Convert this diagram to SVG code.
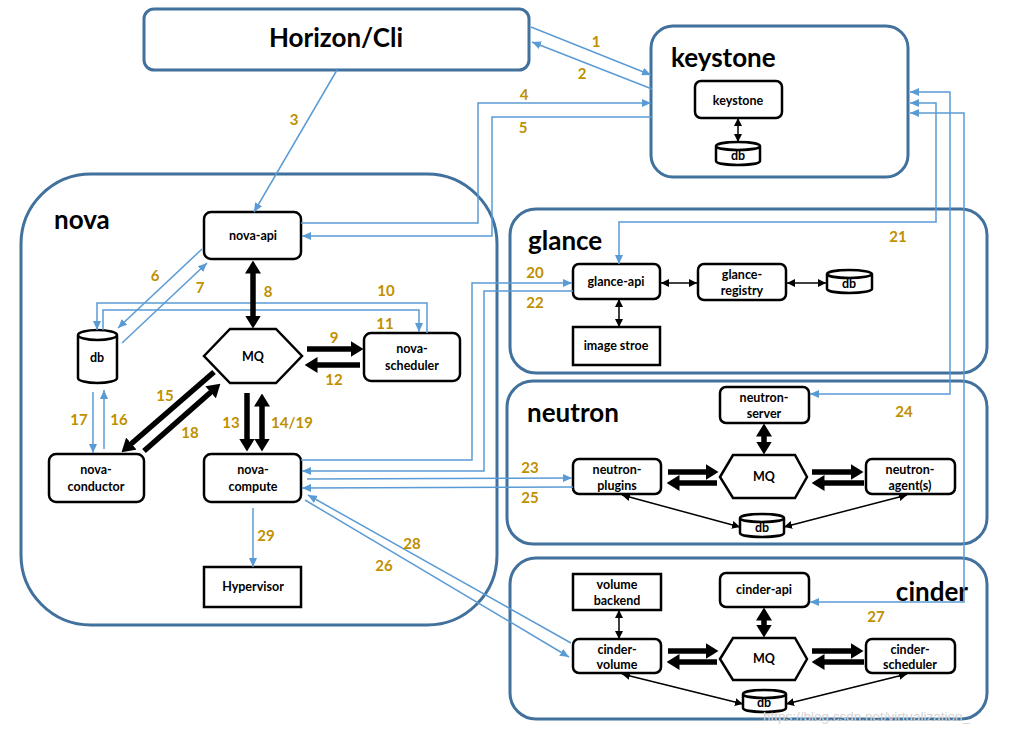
<svg xmlns="http://www.w3.org/2000/svg" width="1016" height="734" viewBox="0 0 1016 734">
<style>
.cont{fill:none;stroke:#41719C;stroke-width:3}
.nd{fill:#fff;stroke:#000;stroke-width:2.5}
.title{font-family:Lato,"Liberation Sans",sans-serif;font-weight:bold;font-size:26px;fill:#000}
.t{font-family:Lato,"Liberation Sans",sans-serif;font-weight:bold;font-size:12.5px;fill:#000;text-anchor:middle}
.lbl{font-family:Lato,"Liberation Sans",sans-serif;font-weight:bold;font-size:15px;fill:#BF9000;text-anchor:middle}
.bl{fill:none;stroke:#5B9BD5;stroke-width:1.5;marker-end:url(#ba)}
.bl2{fill:none;stroke:#5B9BD5;stroke-width:1.5;marker-end:url(#ba);marker-start:url(#ba)}
.thk{stroke:#000;stroke-width:5.5;marker-end:url(#ka)}
.thk2{stroke:#000;stroke-width:5.5;marker-end:url(#ka);marker-start:url(#ka)}
.thin2{stroke:#000;stroke-width:1.5;marker-end:url(#ta);marker-start:url(#ta)}
</style>
<defs>
<marker id="ba" markerUnits="userSpaceOnUse" markerWidth="9" markerHeight="8" refX="9" refY="4" orient="auto-start-reverse"><path d="M0,0 L9,4 L0,8 z" fill="#5B9BD5"/></marker>
<marker id="ka" markerUnits="userSpaceOnUse" markerWidth="13" markerHeight="16" refX="0.5" refY="8" orient="auto-start-reverse"><path d="M0,0 L13,8 L0,16 z" fill="#000"/></marker>
<marker id="ta" markerUnits="userSpaceOnUse" markerWidth="8" markerHeight="8" refX="8" refY="4" orient="auto-start-reverse"><path d="M0,0 L8,4 L0,8 z" fill="#000"/></marker>
</defs>
<rect width="1016" height="734" fill="#fff"/>

<g id="horizon">
<rect x="144" y="9" width="385" height="61" rx="10" class="cont"/>
<text x="336" y="47" class="title" text-anchor="middle">Horizon/Cli</text>
</g>
<g id="keystone-box">
<rect x="651" y="26" width="257" height="151" rx="22" class="cont"/>
<text x="671" y="67" class="title">keystone</text>
</g>
<g id="nova-box">
<rect x="21" y="174" width="476" height="451" rx="70" class="cont"/>
<text x="54" y="229" class="title">nova</text>
</g>
<g id="glance-box">
<rect x="510" y="209" width="477" height="164" rx="26" class="cont"/>
<text x="528" y="250" class="title">glance</text>
</g>
<g id="neutron-box">
<rect x="507" y="381" width="480" height="163" rx="26" class="cont"/>
<text x="527" y="422" class="title">neutron</text>
</g>
<g id="cinder-box">
<rect x="510" y="558" width="477" height="161" rx="26" class="cont"/>
<text x="968" y="601" class="title" text-anchor="end">cinder</text>
</g>

<g id="keystone-svc"><rect x="695" y="81" width="87" height="37" rx="6" class="nd"/><text x="738" y="105" class="t" font-size="11.5">keystone</text></g>
<g id="keystone-db"><path d="M716,146 A22,4 0 0 1 760,146 V161 A22,4 0 0 1 716,161 Z M716,146 A22,4 0 0 0 760,146" class="nd"/><text x="738" y="160" class="t" font-size="10.5">db</text></g>

<g id="nova-api"><rect x="204" y="212" width="97" height="47" rx="7" class="nd"/><text x="253" y="240" class="t">nova-api</text></g>
<g id="nova-db"><path d="M78,335 A19.5,5 0 0 1 117,335 V378 A19.5,5 0 0 1 78,378 Z M78,335 A19.5,5 0 0 0 117,335" class="nd"/><text x="97" y="362" class="t">db</text></g>
<g id="nova-mq"><polygon points="204,356 230,329 276,329 302,356 276,383 230,383" class="nd"/><text x="253" y="361" class="t">MQ</text></g>
<g id="nova-scheduler"><rect x="364" y="333" width="96" height="48" rx="7" class="nd"/><text x="412" y="353" class="t">nova-</text><text x="412" y="370" class="t">scheduler</text></g>
<g id="nova-conductor"><rect x="49" y="454" width="95" height="48" rx="7" class="nd"/><text x="96" y="474" class="t">nova-</text><text x="96" y="491" class="t">conductor</text></g>
<g id="nova-compute"><rect x="204" y="454" width="97" height="48" rx="7" class="nd"/><text x="253" y="474" class="t">nova-</text><text x="253" y="491" class="t">compute</text></g>
<g id="hypervisor"><rect x="204" y="567" width="97" height="40" class="nd"/><text x="253" y="591" class="t">Hypervisor</text></g>

<g id="glance-api"><rect x="573" y="264" width="87" height="35" rx="6" class="nd"/><text x="616" y="286" class="t">glance-api</text></g>
<g id="glance-registry"><rect x="698" y="264" width="88" height="36" rx="6" class="nd"/><text x="742" y="279" class="t">glance-</text><text x="742" y="295" class="t">registry</text></g>
<g id="glance-db"><path d="M827,274 A22.5,4 0 0 1 872,274 V289 A22.5,4 0 0 1 827,289 Z M827,274 A22.5,4 0 0 0 872,274" class="nd"/><text x="849" y="288" class="t" font-size="11">db</text></g>
<g id="image-store"><rect x="573" y="327" width="87" height="38" class="nd"/><text x="616" y="350" class="t" font-size="11.5">image stroe</text></g>

<g id="neutron-server"><rect x="720" y="387" width="89" height="36" rx="6" class="nd"/><text x="764" y="402" class="t">neutron-</text><text x="764" y="418" class="t">server</text></g>
<g id="neutron-mq"><polygon points="720,477 733,455 795,455 807,477 795,498 733,498" class="nd"/><text x="764" y="481" class="t" font-size="11.5">MQ</text></g>
<g id="neutron-plugins"><rect x="573" y="459" width="88" height="35" rx="6" class="nd"/><text x="617" y="474" class="t">neutron-</text><text x="617" y="490" class="t">plugins</text></g>
<g id="neutron-agents"><rect x="866" y="459" width="89" height="35" rx="6" class="nd"/><text x="910" y="474" class="t">neutron-</text><text x="910" y="490" class="t">agent(s)</text></g>
<g id="neutron-db"><path d="M740,518 A22,4 0 0 1 784,518 V533 A22,4 0 0 1 740,533 Z M740,518 A22,4 0 0 0 784,518" class="nd"/><text x="762" y="532" class="t" font-size="11">db</text></g>

<g id="volume-backend"><rect x="573" y="574" width="88" height="36" class="nd"/><text x="617" y="589" class="t" font-size="11.5">volume</text><text x="617" y="605" class="t" font-size="11.5">backend</text></g>
<g id="cinder-api"><rect x="720" y="573" width="89" height="34" rx="6" class="nd"/><text x="764" y="594" class="t">cinder-api</text></g>
<g id="cinder-mq"><polygon points="720,659 733,638 795,638 807,659 795,680 733,680" class="nd"/><text x="764" y="663" class="t" font-size="11.5">MQ</text></g>
<g id="cinder-volume"><rect x="573" y="639" width="88" height="34" rx="6" class="nd"/><text x="617" y="654" class="t">cinder-</text><text x="617" y="669" class="t">volume</text></g>
<g id="cinder-scheduler"><rect x="866" y="639" width="89" height="34" rx="6" class="nd"/><text x="910" y="654" class="t">cinder-</text><text x="910" y="669" class="t">scheduler</text></g>
<g id="cinder-db"><path d="M743,694 A21.5,4 0 0 1 786,694 V708 A21.5,4 0 0 1 743,708 Z M743,694 A21.5,4 0 0 0 786,694" class="nd"/><text x="764" y="707" class="t" font-size="11">db</text></g>

<g id="connectors">
<polyline class="bl" points="531,27 651,75"/>
<polyline class="bl" points="652,89 532,42"/>
<polyline class="bl" points="337,70 254,212"/>
<polyline class="bl" points="301,223 478,223 478,103 651,103"/>
<polyline class="bl" points="652,117 492,117 492,236 302,236"/>
<polyline class="bl" points="202,249 118,328"/>
<polyline class="bl" points="122,343 207,263"/>
<polyline class="bl" points="427,333 427,303 97,303 97,330"/>
<polyline class="bl" points="103,330 103,310 419,310 419,332"/>
<polyline class="bl" points="104,449 104,390"/>
<polyline class="bl" points="93,392 93,453"/>
<polyline class="bl" points="301,460 472,460 472,283 572,283"/>
<polyline class="bl" points="573,291 484,291 484,471 302,471"/>
<polyline class="bl" points="307,479 572,478"/>
<polyline class="bl" points="573,487 302,488"/>
<polyline class="bl" points="305,500 569,657"/>
<polyline class="bl" points="571,643 308,495"/>
<polyline class="bl" points="253,508 253,567"/>
<polyline class="bl2" points="910,103 936,103 936,222 619,222 619,264"/>
<polyline class="bl2" points="910,92 950,92 950,394 810,394"/>
<polyline class="bl2" points="910,113 964,113 964,602 810,602"/>

<line class="thk2" x1="253" y1="273" x2="253" y2="316"/>
<line class="thk" x1="307" y1="349" x2="351" y2="349"/>
<line class="thk" x1="360" y1="365" x2="317" y2="365"/>
<line class="thk" x1="247" y1="393" x2="247" y2="439"/>
<line class="thk2" x1="262" y1="406" x2="262" y2="439"/>
<line class="thk" x1="214" y1="372" x2="131" y2="444"/>
<line class="thk" x1="144" y1="451" x2="211" y2="392"/>

<line class="thk" x1="668" y1="472" x2="706" y2="472"/>
<line class="thk" x1="717" y1="483" x2="679" y2="483"/>
<line class="thk" x1="812" y1="472" x2="851" y2="472"/>
<line class="thk" x1="864" y1="483" x2="824" y2="483"/>
<line class="thk2" x1="764" y1="436" x2="764" y2="442"/>

<line class="thk" x1="668" y1="651" x2="706" y2="651"/>
<line class="thk" x1="717" y1="662" x2="679" y2="662"/>
<line class="thk" x1="812" y1="651" x2="851" y2="651"/>
<line class="thk" x1="864" y1="662" x2="824" y2="662"/>
<line class="thk2" x1="764" y1="620" x2="764" y2="625"/>

<line class="thin2" x1="738" y1="118" x2="738" y2="142"/>
<line class="thin2" x1="661" y1="283" x2="697" y2="283"/>
<line class="thin2" x1="787" y1="283" x2="826" y2="283"/>
<line class="thin2" x1="619" y1="299" x2="619" y2="327"/>
<line class="thin2" x1="622" y1="495" x2="740" y2="527"/>
<line class="thin2" x1="907" y1="495" x2="784" y2="527"/>
<line class="thin2" x1="619" y1="610" x2="619" y2="639"/>
<line class="thin2" x1="622" y1="674" x2="743" y2="704"/>
<line class="thin2" x1="907" y1="674" x2="786" y2="704"/>
</g>

<g id="labels">
<text class="lbl" x="596" y="47">1</text>
<text class="lbl" x="582" y="79">2</text>
<text class="lbl" x="294" y="125">3</text>
<text class="lbl" x="524" y="100">4</text>
<text class="lbl" x="523" y="133">5</text>
<text class="lbl" x="155" y="281">6</text>
<text class="lbl" x="200" y="293">7</text>
<text class="lbl" x="268" y="297">8</text>
<text class="lbl" x="334" y="343">9</text>
<text class="lbl" x="386" y="296">10</text>
<text class="lbl" x="385" y="329">11</text>
<text class="lbl" x="334" y="385">12</text>
<text class="lbl" x="231" y="428">13</text>
<text class="lbl" x="292" y="428">14/19</text>
<text class="lbl" x="165" y="401">15</text>
<text class="lbl" x="119" y="425">16</text>
<text class="lbl" x="79" y="425">17</text>
<text class="lbl" x="190" y="438">18</text>
<text class="lbl" x="535" y="278">20</text>
<text class="lbl" x="898" y="242">21</text>
<text class="lbl" x="535" y="308">22</text>
<text class="lbl" x="530" y="473">23</text>
<text class="lbl" x="904" y="417">24</text>
<text class="lbl" x="530" y="503">25</text>
<text class="lbl" x="384" y="571">26</text>
<text class="lbl" x="876" y="622">27</text>
<text class="lbl" x="412" y="549">28</text>
<text class="lbl" x="266" y="541">29</text>
</g>
<text x="763" y="721" font-family="Liberation Sans, sans-serif" font-size="13.5" fill="#d4d4d4">https://blog.csdn.net/virtualization_</text>
</svg>
